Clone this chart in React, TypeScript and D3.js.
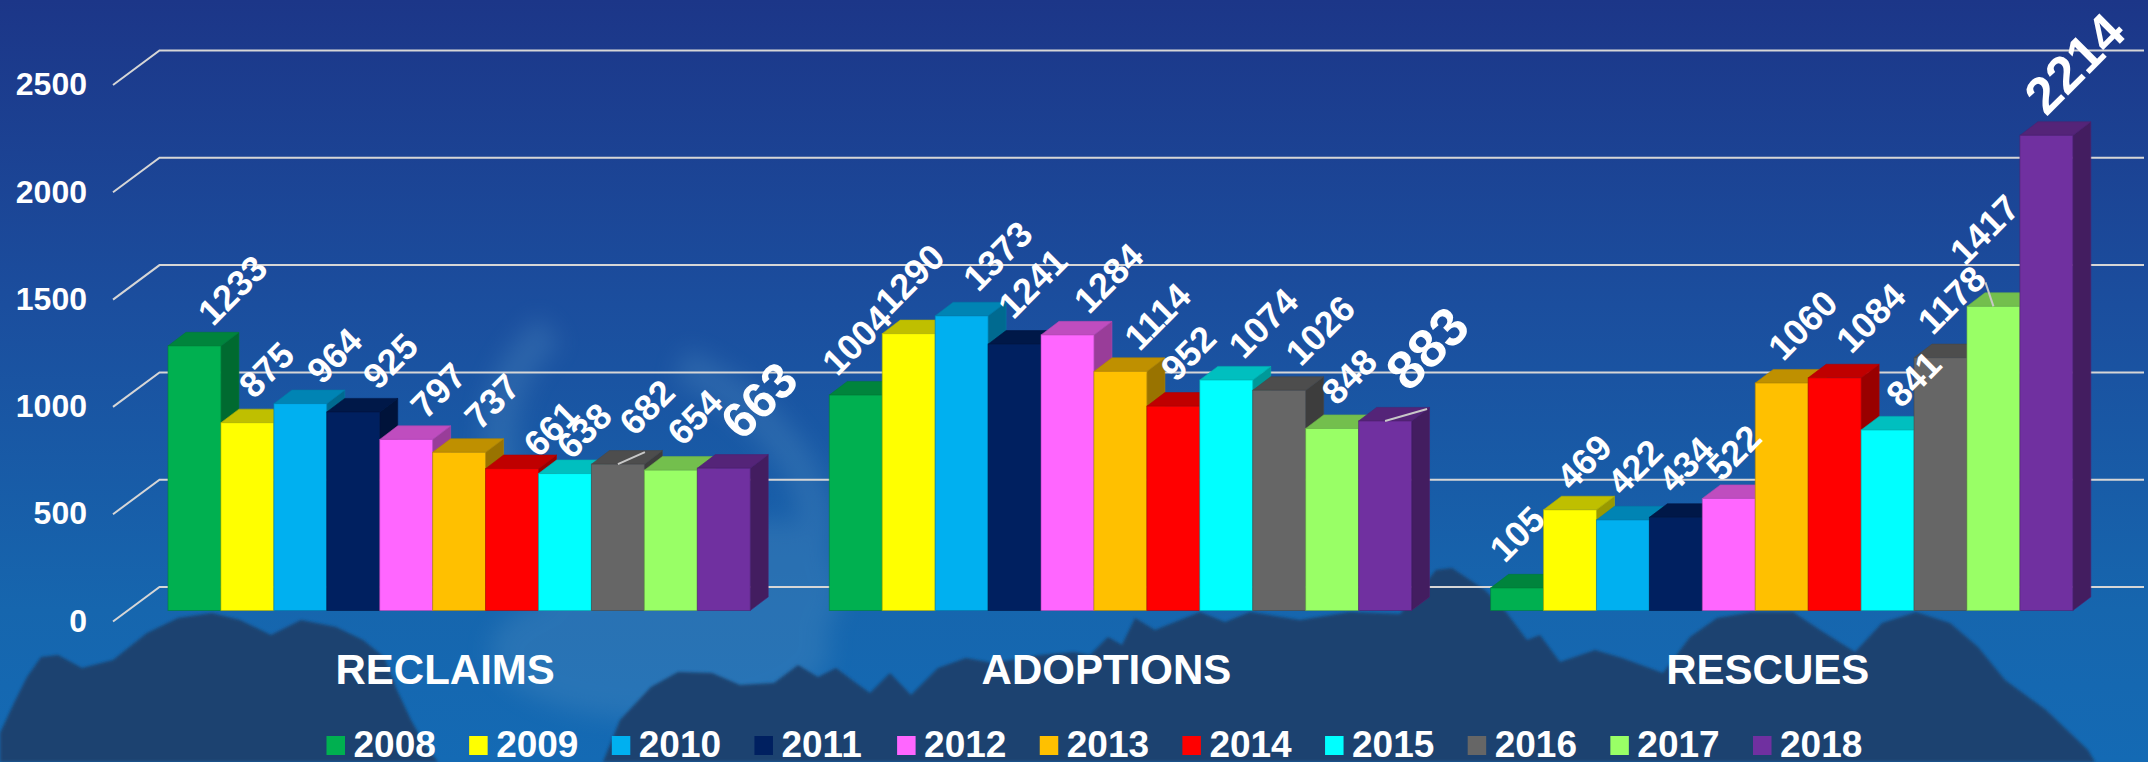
import React from "react";
import * as d3 from "d3";

const WIDTH = 2148;
const HEIGHT = 762;
const FONT = "'Liberation Sans', Arial, sans-serif";

const categories = ["RECLAIMS", "ADOPTIONS", "RESCUES"];
const years = ["2008", "2009", "2010", "2011", "2012", "2013", "2014", "2015", "2016", "2017", "2018"];
const colors = ["#00B050", "#FFFF00", "#00B0F0", "#002060", "#FF66FF", "#FFC000", "#FF0000", "#00FFFF", "#666666", "#99FF66", "#7030A0"];
const reclaims = [1233, 875, 964, 925, 797, 737, 661, 638, 682, 654, 663];
const adoptions = [1004, 1290, 1373, 1241, 1284, 1114, 952, 1074, 1026, 848, 883];
const rescues = [105, 469, 422, 434, 522, 1060, 1084, 841, 1178, 1417, 2214];
const seriesByCategory = [reclaims, adoptions, rescues];
const yTicks = [0, 500, 1000, 1500, 2000, 2500];

// Hand placement of the data labels, relative to the top centre of each bar.
const reclaimNudges = [[38, -56], [19, -53], [34, -48], [37, -51], [32, -49], [33, -51], [39, -40], [19, -43], [29, -57], [24, -53], [35, -68]];
const adoptionNudges = [[1, -55], [1, -55], [36, -60], [18, -61], [41, -57], [37, -55], [15, -53], [37, -57], [41, -60], [17, -52], [42, -73]];
const rescueNudges = [[0, -54], [14, -48], [12, -53], [10, -53], [5, -46], [21, -58], [36, -60], [26, -51], [11, -58], [-9, -77], [28, -72]];
const nudges = [reclaimNudges, adoptionNudges, rescueNudges];
// Large labels: [category index, series index, font size]
const largeLabels = [[0, 10, 50], [1, 10, 54], [2, 10, 52]];
// Leader lines: [category index, series index, dx, dy]
const leaders = [[0, 8, 27, -12], [1, 10, 42, -12], [2, 9, -8, -24]];

// Backdrop silhouette (decorative)
const mountainA = [[0, 762], [0, 733], [14, 703], [27, 677], [41, 657], [58, 655], [82, 668], [113, 660], [147, 633], [178, 618], [212, 613], [240, 620], [271, 635], [301, 620], [336, 627], [363, 640], [384, 657], [397, 690], [411, 720], [425, 745], [438, 762]];
const mountainB = [[603, 762], [620, 720], [651, 687], [678, 672], [712, 673], [740, 685], [774, 683], [798, 665], [818, 677], [836, 668], [856, 683], [870, 693], [890, 673], [911, 695], [938, 668], [966, 658], [993, 663], [1040, 655], [1074, 652], [1090, 655], [1108, 637], [1122, 645], [1135, 618], [1155, 630], [1200, 612], [1225, 622], [1250, 612], [1300, 620], [1350, 612], [1400, 614], [1420, 590], [1436, 570], [1452, 568], [1470, 580], [1485, 590], [1506, 612], [1527, 640], [1540, 635], [1560, 662], [1595, 650], [1622, 658], [1663, 673], [1690, 637], [1717, 618], [1752, 612], [1793, 612], [1820, 630], [1855, 652], [1882, 623], [1916, 612], [1950, 623], [1978, 647], [2005, 680], [2046, 710], [2088, 750], [2095, 762]];

const k = 0.2146;
const y = d3.scaleLinear().domain([0, 2500]).range([610.5, 610.5 - 2500 * k]);
const groupX = d3.scaleBand().domain(categories).range([128.5, 128.5 + 3 * 661.3]);
const barX = d3.scaleBand().domain(years).range([39.5, 39.5 + 11 * 52.93]);
const DX = 18;
const DY = 13.6;
const GRID_FRONT_X = 113;
const GRID_BACK_X = 159.5;
const GRID_END_X = 2144;
const GRID_FRONT_OFFSET = 11;
const GRID_BACK_OFFSET = -23.5;

const shade = (c: string, f: number) => {
  const r = d3.rgb(c);
  return d3.rgb(r.r * f, r.g * f, r.b * f).formatHex();
};
const poly = (pts: number[][]) => d3.line()(pts as [number, number][]) + "Z";

export default function App() {
  const w = barX.bandwidth();
  const barLeft = (ci: number, si: number) => groupX(categories[ci])! + barX(years[si])!;
  return (
    <svg width={WIDTH} height={HEIGHT} viewBox={`0 0 ${WIDTH} ${HEIGHT}`} style={{ position: "absolute", left: 0, top: 0, display: "block" }}>
      <defs>
        <linearGradient id="bg" x1="0" y1="0" x2="0" y2="1">
          <stop offset="0" stopColor="#1c3688" />
          <stop offset="0.4" stopColor="#1b4e9e" />
          <stop offset="0.8" stopColor="#1666ae" />
          <stop offset="1" stopColor="#146ab4" />
        </linearGradient>
        <filter id="blur" x="-30%" y="-30%" width="160%" height="160%"><feGaussianBlur stdDeviation="12" /></filter>
        <filter id="soft" x="-5%" y="-5%" width="110%" height="110%"><feGaussianBlur stdDeviation="1.5" /></filter>
      </defs>
      <rect width={WIDTH} height={HEIGHT} fill="url(#bg)" />
      <g filter="url(#blur)" opacity={0.28}>
        <path d="M550 330 Q490 380 500 470 Q520 590 640 630 Q740 650 810 560 Q830 500 780 440 Q740 390 680 365" fill="none" stroke="#5a94c4" strokeWidth={34} />
        <ellipse cx="660" cy="650" rx="170" ry="70" fill="#5a94c4" />
        <ellipse cx="770" cy="590" rx="70" ry="70" fill="#5a94c4" />
      </g>
      <g filter="url(#soft)" fill="#1a426f">
        <path d={poly(mountainA)} />
        <path d={poly(mountainB)} />
      </g>

      <g stroke="#d6d6d6" strokeWidth={2} fill="none">
        {yTicks.map((t) => (
          <path key={t} d={d3.line()([[GRID_FRONT_X, y(t) + GRID_FRONT_OFFSET], [GRID_BACK_X, y(t) + GRID_BACK_OFFSET], [GRID_END_X, y(t) + GRID_BACK_OFFSET]]) as string} />
        ))}
      </g>
      <g fill="#fff" fontFamily={FONT} fontWeight="bold" fontSize={32} textAnchor="end">
        {yTicks.map((t) => (
          <text key={t} x={87} y={y(t) + GRID_FRONT_OFFSET - 1} dy="0.35em">{t}</text>
        ))}
      </g>

      {seriesByCategory.map((vals, ci) => (
        <g key={categories[ci]}>
          {vals.map((v, si) => {
            const x0 = barLeft(ci, si);
            const x1 = x0 + w;
            const t = y(v);
            const b = y(0);
            const c = colors[si];
            const edge = { stroke: shade(c, 0.7), strokeWidth: 1, strokeOpacity: 0.6 };
            return (
              <g key={si}>
                <path d={poly([[x1, t], [x1 + DX, t - DY], [x1 + DX, b - DY], [x1, b]])} fill={shade(c, 0.6)} {...edge} />
                <path d={poly([[x0, t], [x0 + DX, t - DY], [x1 + DX, t - DY], [x1, t]])} fill={shade(c, 0.75)} {...edge} />
                <rect x={x0} y={t} width={w} height={b - t} fill={c} {...edge} />
              </g>
            );
          })}
        </g>
      ))}

      <g stroke="#c8c8c8" strokeWidth={2}>
        {leaders.map(([ci, si, dx, dy]) => {
          const cx = barLeft(ci, si) + w / 2;
          const cy = y(seriesByCategory[ci][si]);
          return <line key={`${ci}-${si}`} x1={cx} y1={cy} x2={cx + dx} y2={cy + dy} />;
        })}
      </g>

      <g fill="#fff" fontFamily={FONT} fontWeight="bold" textAnchor="middle">
        {seriesByCategory.map((vals, ci) =>
          vals.map((v, si) => {
            const large = largeLabels.find((l) => l[0] === ci && l[1] === si);
            const cx = barLeft(ci, si) + w / 2 + nudges[ci][si][0];
            const cy = y(v) + nudges[ci][si][1];
            return (
              <text key={`${ci}-${si}`} fontSize={large ? large[2] : 36} dy="0.35em" transform={`translate(${cx},${cy}) rotate(-45)`}>{v}</text>
            );
          })
        )}
      </g>

      <g fill="#fff" fontFamily={FONT} fontWeight="bold" fontSize={42} textAnchor="middle">
        {categories.map((c) => (
          <text key={c} x={groupX(c)! + groupX.bandwidth() / 2 - 14} y={669} dy="0.35em">{c}</text>
        ))}
      </g>

      <g fontFamily={FONT} fontWeight="bold" fontSize={37} fill="#fff">
        {years.map((yr, i) => {
          const lx = 326.5 + i * 142.65;
          return (
            <g key={yr}>
              <rect x={lx} y={736} width={18.5} height={19} fill={colors[i]} />
              <text x={lx + 27} y={743.5} dy="0.36em">{yr}</text>
            </g>
          );
        })}
      </g>
    </svg>
  );
}
